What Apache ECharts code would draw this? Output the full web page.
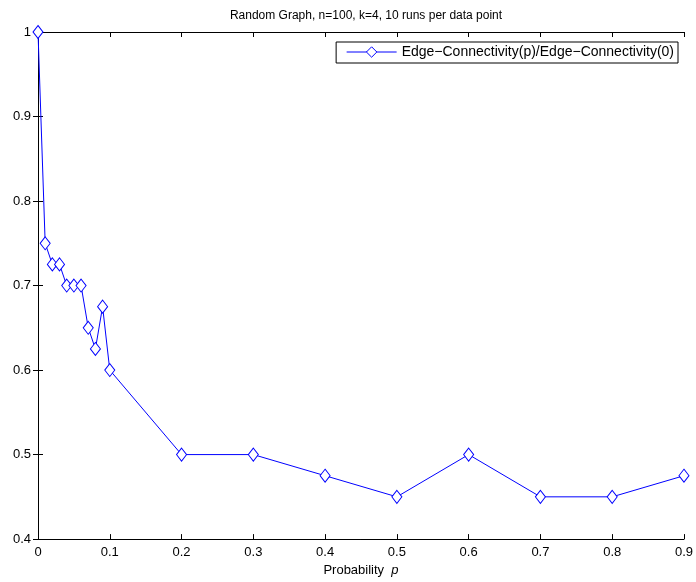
<!DOCTYPE html>
<html>
<head>
<meta charset="utf-8">
<script src="https://cdn.jsdelivr.net/npm/echarts@6/dist/echarts.min.js"></script>
<style>
html, body { margin: 0; padding: 0; background: #fff; }
#main { width: 696px; height: 582px; }
</style>
</head>
<body>
<div id="main"></div>
<script>
// probability p and connectivity ratio
var probs = [0, 0.01, 0.02, 0.03, 0.04, 0.05, 0.06, 0.07, 0.08, 0.09, 0.1, 0.2, 0.3, 0.4, 0.5, 0.6, 0.7, 0.8, 0.9];
var ratio = [1.0, 0.75, 0.725, 0.725, 0.7, 0.7, 0.7, 0.65, 0.625, 0.675, 0.6, 0.5, 0.5, 0.475, 0.45, 0.5, 0.45, 0.45, 0.475];
var seriesName = 'Edge\u2212Connectivity(p)/Edge\u2212Connectivity(0)';

var pts = [];
for (var i = 0; i < probs.length; i++) {
	pts.push([probs[i], ratio[i]]);
}

var font = 'Liberation Sans, Arial, Helvetica, sans-serif';
var chart = echarts.init(document.getElementById('main'));

var tickStyle = { show : true, inside : true, length : 5, lineStyle : { color : '#000' } };
var option = {
	animation : false,
	backgroundColor : '#fff',
	title : {
		text : 'Random Graph, n=100, k=4, 10 runs per data point',
		left : 361,
		textAlign : 'center',
		top : 5,
		textStyle : { fontFamily : font, fontSize : 12, fontWeight : 'normal', color : '#000' }
	},
	legend : {
		right : 18,
		top : 42,
		orient : 'vertical',
		backgroundColor : '#fff',
		borderColor : '#000',
		borderWidth : 1,
		borderRadius : 0,
		padding : [3, 4, 4, 10],
		itemWidth : 50,
		itemHeight : 13,
		itemGap : 6,
		textStyle : { fontFamily : font, fontSize : 14, color : '#000' },
		itemStyle : { color : '#fff', borderColor : '#0000ff', borderWidth : 1 },
		lineStyle : { color : '#0000ff', width : 1 },
		data : [ seriesName ]
	},
	grid : { left : 38, right : 12, top : 32, bottom : 37 },
	xAxis : [ {
		type : 'value',
		min : 0,
		max : 0.9,
		interval : 0.1,
		name : '{n|Probability  }{i|p}',
		nameLocation : 'middle',
		nameGap : 24,
		nameTextStyle : {
			fontFamily : font, fontSize : 13, color : '#000',
			rich : {
				n : { fontFamily : font, fontSize : 13, color : '#000' },
				i : { fontFamily : font, fontSize : 13, color : '#000', fontStyle : 'italic' }
			}
		},
		axisLine : { lineStyle : { color : '#000' } },
		axisTick : tickStyle,
		axisLabel : { fontFamily : font, fontSize : 13, color : '#000', margin : 7 },
		splitLine : { show : false }
	}, {
		type : 'value',
		position : 'top',
		min : 0,
		max : 0.9,
		interval : 0.1,
		axisLine : { show : true, lineStyle : { color : '#000' } },
		axisTick : tickStyle,
		axisLabel : { show : false },
		splitLine : { show : false }
	} ],
	yAxis : [ {
		type : 'value',
		min : 0.4,
		max : 1,
		interval : 0.1,
		axisLine : { show : true, lineStyle : { color : '#000' } },
		axisTick : tickStyle,
		axisLabel : {
			fontFamily : font, fontSize : 13, color : '#000', margin : 7,
			formatter : function (v) { return +v.toFixed(1) + ''; }
		},
		splitLine : { show : false }
	}, {
		type : 'value',
		position : 'right',
		min : 0.4,
		max : 1,
		interval : 0.1,
		axisLine : { show : true, lineStyle : { color : '#000' } },
		axisTick : tickStyle,
		axisLabel : { show : false },
		splitLine : { show : false }
	} ],
	series : [ {
		name : seriesName,
		type : 'line',
		data : pts,
		symbol : 'diamond',
		symbolSize : [10, 13],
		color : '#0000ff',
		lineStyle : { color : '#0000ff', width : 1 },
		itemStyle : { color : '#fff', borderColor : '#0000ff', borderWidth : 1 }
	} ]
};
chart.setOption(option);
</script>
</body>
</html>
